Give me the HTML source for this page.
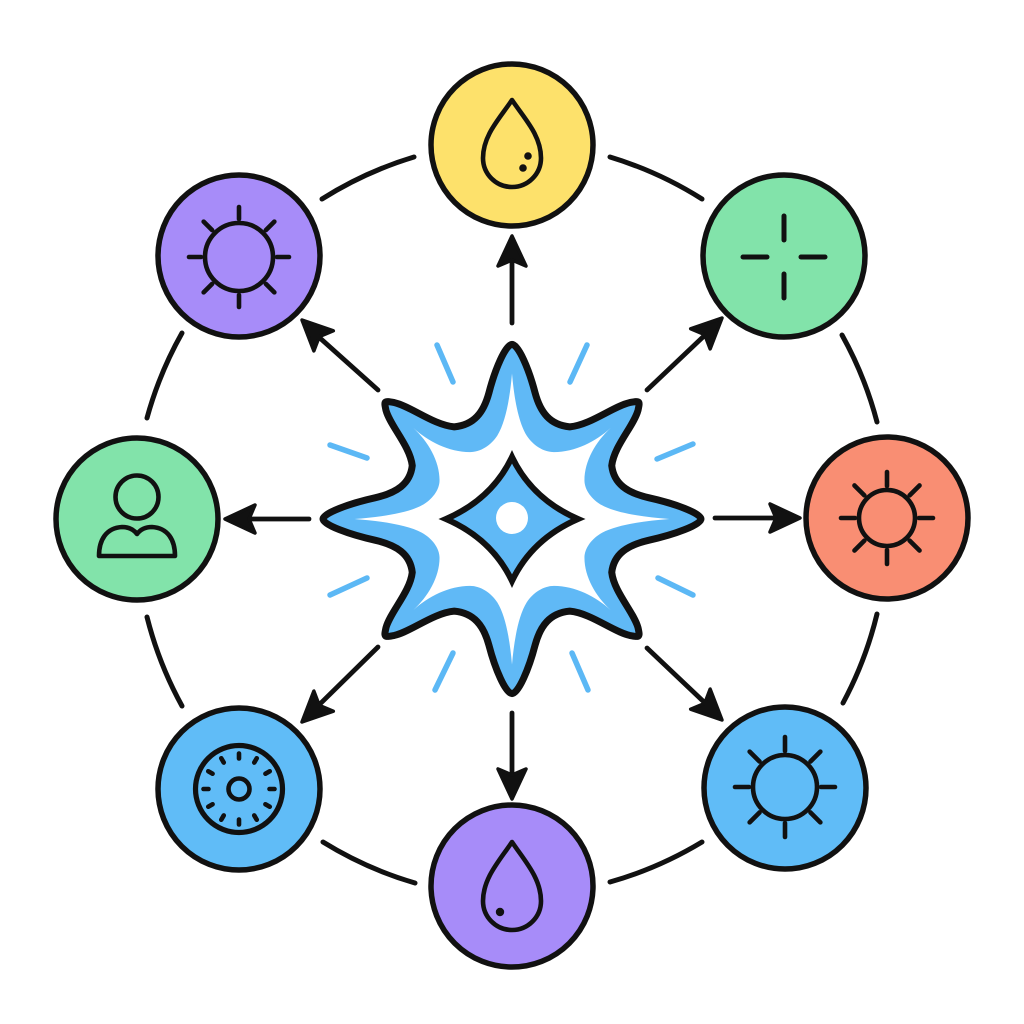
<!DOCTYPE html>
<html>
<head>
<meta charset="utf-8">
<style>
  html,body{margin:0;padding:0;background:#ffffff;}
  svg{display:block;}
</style>
</head>
<body>
<svg width="1024" height="1024" viewBox="0 0 1024 1024" xmlns="http://www.w3.org/2000/svg">
  <rect width="1024" height="1024" fill="#ffffff"/>

  <!-- outer ring arcs -->
  <g fill="none" stroke="#111" stroke-width="5" stroke-linecap="round">
    <path d="M322,199 A375,375 0 0 1 414,157"/>
    <path d="M610,157 A375,375 0 0 1 702,199"/>
    <path d="M842,335 A375,375 0 0 1 877,422"/>
    <path d="M877,614 A375,375 0 0 1 843,703"/>
    <path d="M702,842 A375,375 0 0 1 610,882"/>
    <path d="M415,883 A375,375 0 0 1 323,842"/>
    <path d="M182,706 A375,375 0 0 1 147,617"/>
    <path d="M147,418 A375,375 0 0 1 182,333"/>
  </g>

  <!-- arrows -->
  <g stroke="#111" stroke-width="4.8" stroke-linecap="round" fill="none">
    <line x1="512" y1="323" x2="512" y2="262"/>
    <line x1="512" y1="713" x2="512" y2="773"/>
    <line x1="309" y1="519" x2="251" y2="519"/>
    <line x1="715" y1="518" x2="774" y2="518"/>
    <line x1="647" y1="390" x2="703.6" y2="336.4"/>
    <line x1="647" y1="648" x2="703.6" y2="701.6"/>
    <line x1="378" y1="647" x2="320.4" y2="703.6"/>
    <line x1="378" y1="390" x2="320.4" y2="338.4"/>
  </g>
  <g fill="#111" stroke="#111" stroke-width="3.5" stroke-linejoin="round">
    <path transform="translate(512,236) rotate(-90)" d="M0,0 L-30,-14 L-24,0 L-30,14 Z"/>
    <path transform="translate(512,799) rotate(90)" d="M0,0 L-30,-14 L-24,0 L-30,14 Z"/>
    <path transform="translate(225,519) rotate(180)" d="M0,0 L-30,-14 L-24,0 L-30,14 Z"/>
    <path transform="translate(800,518) rotate(0)" d="M0,0 L-30,-14 L-24,0 L-30,14 Z"/>
    <path transform="translate(722,318) rotate(-44)" d="M0,0 L-30,-14 L-24,0 L-30,14 Z"/>
    <path transform="translate(722,720) rotate(44)" d="M0,0 L-30,-14 L-24,0 L-30,14 Z"/>
    <path transform="translate(302,722) rotate(136)" d="M0,0 L-30,-14 L-24,0 L-30,14 Z"/>
    <path transform="translate(302,320) rotate(-136)" d="M0,0 L-30,-14 L-24,0 L-30,14 Z"/>
  </g>

  <!-- blue rays around star -->
  <g stroke="#5CB8F5" stroke-width="5.5" stroke-linecap="round">
    <line x1="437" y1="345" x2="453" y2="382"/>
    <line x1="587" y1="345" x2="570" y2="382"/>
    <line x1="330" y1="445" x2="367" y2="458"/>
    <line x1="330" y1="595" x2="367" y2="578"/>
    <line x1="657" y1="459" x2="693" y2="444"/>
    <line x1="658" y1="578" x2="693" y2="595"/>
    <line x1="453" y1="653" x2="435" y2="690"/>
    <line x1="572" y1="653" x2="588" y2="690"/>
  </g>

  <!-- central star -->
  <g transform="translate(512,519) scale(1.05,0.97)">
    <path fill="#60B9F6" stroke="#111" stroke-width="7" stroke-linejoin="round" vector-effect="non-scaling-stroke"
      d="M0,-180 C6,-180 16,-155 22,-130 C27,-110 36,-97 55,-95 C75,-97 96,-116 112,-120 C122,-122 122,-122 120,-112 C116,-96 97,-75 95,-55 C97,-36 110,-27 130,-22 C155,-16 180,-6 180,0
         C180,6 155,16 130,22 C110,27 97,36 95,55 C97,75 116,96 120,112 C122,122 122,122 112,120 C96,116 75,97 55,95 C36,97 27,110 22,130 C16,155 6,180 0,180
         C-6,180 -16,155 -22,130 C-27,110 -36,97 -55,95 C-75,97 -96,116 -112,120 C-122,122 -122,122 -120,112 C-116,96 -97,75 -95,55 C-97,36 -110,27 -130,22 C-155,16 -180,6 -180,0
         C-180,-6 -155,-16 -130,-22 C-110,-27 -97,-36 -95,-55 C-97,-75 -116,-96 -120,-112 C-122,-122 -122,-122 -112,-120 C-96,-116 -75,-97 -55,-95 C-36,-97 -27,-110 -22,-130 C-16,-155 -6,-180 0,-180 Z"/>
    <path fill="#ffffff"
      d="M0,-150 C2,-125 6,-100 14,-86 C20,-76 30,-69 40,-69 C60,-69 80,-80 94,-94 C80,-80 69,-60 69,-40 C69,-30 76,-20 86,-14 C100,-6 125,-2 150,0
         C125,2 100,6 86,14 C76,20 69,30 69,40 C69,60 80,80 94,94 C80,80 60,69 40,69 C30,69 20,76 14,86 C6,100 2,125 0,150
         C-2,125 -6,100 -14,86 C-20,76 -30,69 -40,69 C-60,69 -80,80 -94,94 C-80,80 -69,60 -69,40 C-69,30 -76,20 -86,14 C-100,6 -125,2 -150,0
         C-125,-2 -100,-6 -86,-14 C-76,-20 -69,-30 -69,-40 C-69,-60 -80,-80 -94,-94 C-80,-80 -60,-69 -40,-69 C-30,-69 -20,-76 -14,-86 C-6,-100 -2,-125 0,-150 Z"/>
  </g>
  <g transform="translate(512,519)">
    <path fill="#60B9F6" stroke="#111" stroke-width="6" stroke-linejoin="miter" stroke-miterlimit="6"
      d="M0,-62 Q20,-20 66,0 Q20,20 0,62 Q-20,20 -66,0 Q-20,-20 0,-62 Z"/>
    <circle cx="0" cy="-1" r="16" fill="#ffffff"/>
  </g>

  <!-- node circles -->
  <g stroke="#111" stroke-width="5.5">
    <circle cx="512" cy="145" r="81" fill="#FDE16B"/>
    <circle cx="784" cy="256" r="81" fill="#82E3AA"/>
    <circle cx="887" cy="518" r="81" fill="#F98E73"/>
    <circle cx="785" cy="788" r="81" fill="#60BCF7"/>
    <circle cx="512" cy="886" r="81" fill="#A78CF9"/>
    <circle cx="239" cy="789" r="81" fill="#60BCF7"/>
    <circle cx="137" cy="519" r="81" fill="#82E3AA"/>
    <circle cx="239" cy="256" r="81" fill="#A78CF9"/>
  </g>

  <!-- icons -->
  <g fill="none" stroke="#111" stroke-width="4.6" stroke-linecap="round" stroke-linejoin="round">
    <!-- yellow drop -->
    <path d="M512,100 C500,118 483,135 483,158 A29,29 0 0 0 541,158 C541,135 524,118 512,100 Z"/>
    <!-- purple drop -->
    <path d="M512,842 C500,860 483,878 483,901 A29,29 0 0 0 541,901 C541,878 524,860 512,842 Z"/>

    <!-- top-left sun -->
    <g transform="translate(239,257)">
      <circle r="34"/>
      <line x1="0" y1="-38" x2="0" y2="-50"/>
      <line x1="0" y1="-38" x2="0" y2="-50" transform="rotate(45)"/>
      <line x1="0" y1="-38" x2="0" y2="-50" transform="rotate(90)"/>
      <line x1="0" y1="-38" x2="0" y2="-50" transform="rotate(135)"/>
      <line x1="0" y1="-38" x2="0" y2="-50" transform="rotate(180)"/>
      <line x1="0" y1="-38" x2="0" y2="-50" transform="rotate(225)"/>
      <line x1="0" y1="-38" x2="0" y2="-50" transform="rotate(270)"/>
      <line x1="0" y1="-38" x2="0" y2="-50" transform="rotate(315)"/>
    </g>

    <!-- green plus -->
    <g transform="translate(784,257)" stroke-width="5">
      <line x1="0" y1="-17" x2="0" y2="-41"/>
      <line x1="0" y1="17" x2="0" y2="41"/>
      <line x1="-17" y1="0" x2="-41" y2="0"/>
      <line x1="17" y1="0" x2="41" y2="0"/>
    </g>

    <!-- coral sun -->
    <g transform="translate(887,518)">
      <circle r="28"/>
      <line x1="0" y1="-32" x2="0" y2="-46"/>
      <line x1="0" y1="-32" x2="0" y2="-46" transform="rotate(45)"/>
      <line x1="0" y1="-32" x2="0" y2="-46" transform="rotate(90)"/>
      <line x1="0" y1="-32" x2="0" y2="-46" transform="rotate(135)"/>
      <line x1="0" y1="-32" x2="0" y2="-46" transform="rotate(180)"/>
      <line x1="0" y1="-32" x2="0" y2="-46" transform="rotate(225)"/>
      <line x1="0" y1="-32" x2="0" y2="-46" transform="rotate(270)"/>
      <line x1="0" y1="-32" x2="0" y2="-46" transform="rotate(315)"/>
    </g>

    <!-- bottom-right sun -->
    <g transform="translate(785,787)">
      <circle r="32"/>
      <line x1="0" y1="-36" x2="0" y2="-50"/>
      <line x1="0" y1="-36" x2="0" y2="-50" transform="rotate(45)"/>
      <line x1="0" y1="-36" x2="0" y2="-50" transform="rotate(90)"/>
      <line x1="0" y1="-36" x2="0" y2="-50" transform="rotate(135)"/>
      <line x1="0" y1="-36" x2="0" y2="-50" transform="rotate(180)"/>
      <line x1="0" y1="-36" x2="0" y2="-50" transform="rotate(225)"/>
      <line x1="0" y1="-36" x2="0" y2="-50" transform="rotate(270)"/>
      <line x1="0" y1="-36" x2="0" y2="-50" transform="rotate(315)"/>
    </g>

    <!-- person -->
    <circle cx="137" cy="497" r="21.5"/>
    <path d="M99,556 C99,540 106,528 122,527 C129,527 134,530 137,534 C140,530 145,527 152,527 C168,528 175,540 175,556 Z"/>

    <!-- dial -->
    <g transform="translate(239,789)">
      <circle r="43.5" stroke-width="5.2"/>
      <circle r="10.5"/>
      <g stroke-width="4.6">
        <line x1="0" y1="-30.5" x2="0" y2="-35.5"/>
        <line x1="0" y1="-30.5" x2="0" y2="-35.5" transform="rotate(30)"/>
        <line x1="0" y1="-30.5" x2="0" y2="-35.5" transform="rotate(60)"/>
        <line x1="0" y1="-30.5" x2="0" y2="-35.5" transform="rotate(90)"/>
        <line x1="0" y1="-30.5" x2="0" y2="-35.5" transform="rotate(120)"/>
        <line x1="0" y1="-30.5" x2="0" y2="-35.5" transform="rotate(150)"/>
        <line x1="0" y1="-30.5" x2="0" y2="-35.5" transform="rotate(180)"/>
        <line x1="0" y1="-30.5" x2="0" y2="-35.5" transform="rotate(210)"/>
        <line x1="0" y1="-30.5" x2="0" y2="-35.5" transform="rotate(240)"/>
        <line x1="0" y1="-30.5" x2="0" y2="-35.5" transform="rotate(270)"/>
        <line x1="0" y1="-30.5" x2="0" y2="-35.5" transform="rotate(300)"/>
        <line x1="0" y1="-30.5" x2="0" y2="-35.5" transform="rotate(330)"/>
      </g>
    </g>
  </g>

  <!-- drop dots -->
  <g fill="#111">
    <circle cx="528" cy="156" r="3.8"/>
    <circle cx="523" cy="168" r="3.8"/>
    <circle cx="500" cy="912" r="4.2"/>
  </g>
</svg>
</body>
</html>
